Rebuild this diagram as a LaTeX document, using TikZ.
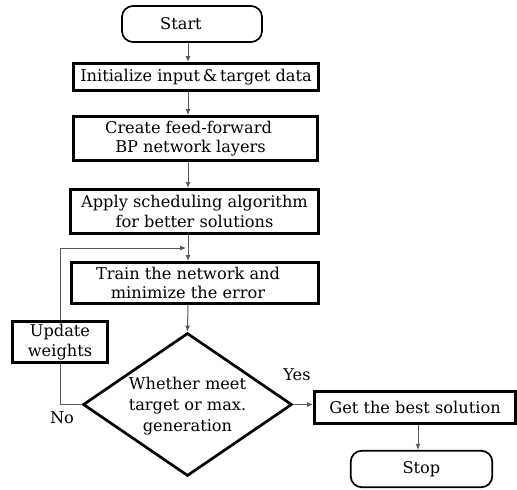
\documentclass[tikz,border=0pt]{standalone}
\usepackage{fontspec}
\setmainfont{DejaVu Serif}
\usetikzlibrary{arrows.meta,shapes.geometric}
\newcommand{\flatbox}[1]{\makebox[0pt]{\raisebox{-6pt}[0pt][0pt]{\begin{tabular}{@{}c@{}}#1\end{tabular}}}}
\begin{document}
\begin{tikzpicture}[x=1pt,y=-1pt,
  txt/.style={font=\fontsize{16.2}{19.5}\selectfont, align=center},
  box/.style={txt, draw, line width=2.7pt, rectangle, inner sep=0pt, fill=white},
  term/.style={txt, draw, line width=1.7pt, rounded corners=11pt, inner sep=0pt},
  decision/.style={font=\fontsize{16.2}{21}\selectfont, draw, line width=2.7pt, diamond, inner sep=0pt},
  arrow/.style={draw=black!65, line width=1pt, -{Latex[length=6pt,width=5pt]}},
  plain/.style={draw=black!65, line width=1pt}]
\useasboundingbox (0,0) rectangle (517,490);
\coordinate (ax) at (188,0);
\coordinate (sx) at (418,0);
\coordinate (loopend) at (188,248);

\node[term, minimum width=140, minimum height=36] (start) at (192,24) {\hspace*{-22pt}Start};
\node[box, minimum width=245.3, minimum height=27.3] (init) at (196,77) {Initialize input\,\&\,target data};
\node[box, minimum width=244.3, minimum height=44.3] (create) at (195.5,138.5) {\hspace*{-14pt}Create feed-forward\\\hspace*{-10pt}BP network layers};
\node[box, minimum width=248.3, minimum height=44.3] (apply) at (194.5,211.5) {Apply scheduling algorithm\\for better solutions};
\node[box, minimum width=247.3, minimum height=41.3] (train) at (195,283) {\hspace*{-14pt}Train the network and\\\hspace*{-14pt}minimize the error};
\node[box, minimum width=95.3, minimum height=41.3] (upd) at (60,342) {Update\\weights};
\node[decision, minimum width=209, minimum height=143] (dec) at (187.5,404.5) {\flatbox{Whether meet\\target or max.\\generation}};
\node[box, minimum width=201.3, minimum height=32.3] (best) at (415,407.5) {Get the best solution};
\node[term, minimum width=141.5, minimum height=36.5] (stop) at (421.5,469) {Stop};
\node[txt] (yes) at (297,375) {Yes};
\node[txt] (no) at (62,418) {No};

\draw[arrow] (start.south -| ax) -- (init.north -| ax);
\draw[arrow] (init.south -| ax) -- (create.north -| ax);
\draw[arrow] (create.south -| ax) -- (apply.north -| ax);
\draw[arrow] (apply.south -| ax) -- (train.north -| ax);
\draw[arrow] (train.south -| ax) -- (dec.north);
\draw[arrow] (dec.east) -- (dec.east -| best.west);
\draw[arrow] (best.south -| sx) -- (stop.north -| sx);
\draw[plain] (dec.west) -| (upd.south);
\draw[arrow] (upd.north) |- ([xshift=-2pt]loopend);
\end{tikzpicture}
\end{document}
